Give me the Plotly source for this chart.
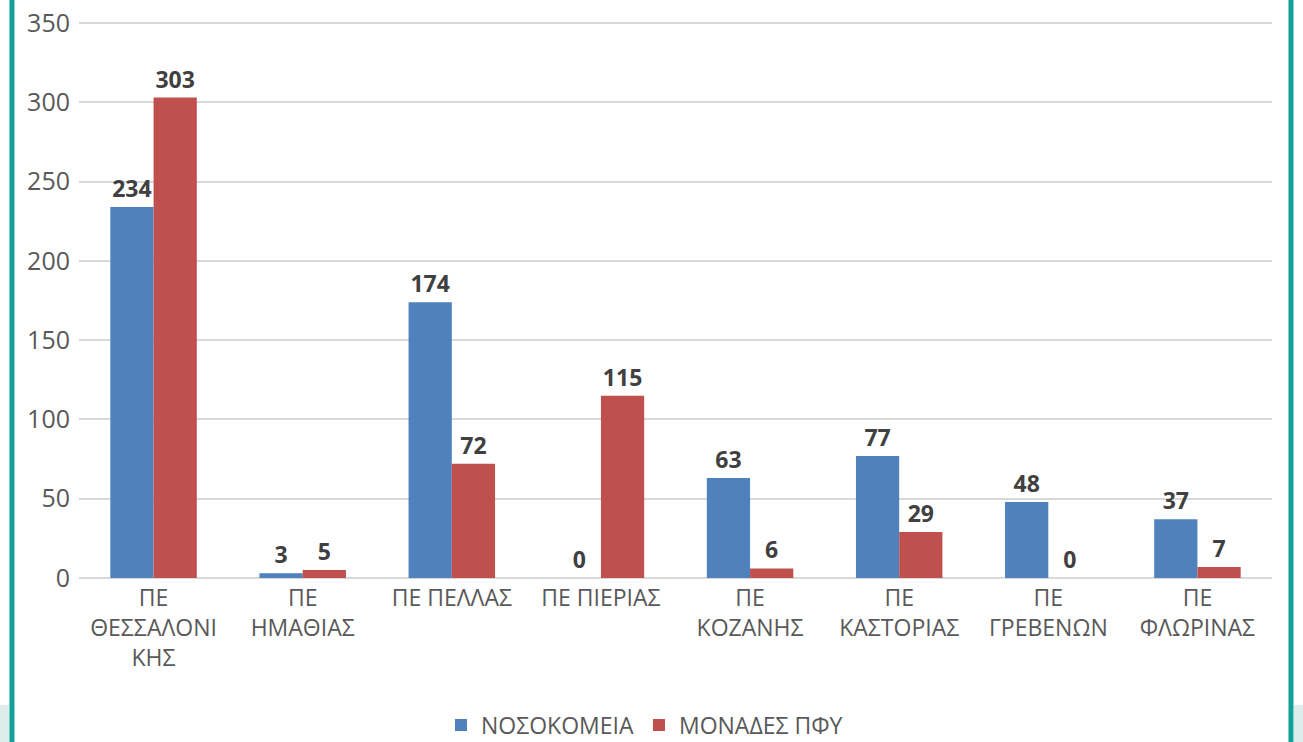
import plotly.graph_objects as go

categories = ["ΠΕ<br>ΘΕΣΣΑΛΟΝΙ<br>ΚΗΣ", "ΠΕ<br>ΗΜΑΘΙΑΣ", "ΠΕ ΠΕΛΛΑΣ", "ΠΕ ΠΙΕΡΙΑΣ",
              "ΠΕ<br>ΚΟΖΑΝΗΣ", "ΠΕ<br>ΚΑΣΤΟΡΙΑΣ", "ΠΕ<br>ΓΡΕΒΕΝΩΝ", "ΠΕ<br>ΦΛΩΡΙΝΑΣ"]
hospitals = [234, 3, 174, 0, 63, 77, 48, 37]
pfy_units = [303, 5, 72, 115, 6, 29, 0, 7]
series_names = ["ΝΟΣΟΚΟΜΕΙΑ", "ΜΟΝΑΔΕΣ ΠΦΥ"]
series_colors = ["#4F81BD", "#C0504D"]
y_ticks = [0, 50, 100, 150, 200, 250, 300, 350]

FONT = "Open Sans, DejaVu Sans, sans-serif"
fig = go.Figure()
for name, vals, col in zip(series_names, [hospitals, pfy_units], series_colors):
    fig.add_trace(go.Bar(
        x=categories, y=vals, name=name, marker_color=col, marker_line_width=0,
        text=[str(v) for v in vals], textposition="outside", cliponaxis=False,
        textfont=dict(family=FONT, size=23, color="#404040", weight="bold"),
        showlegend=False,
    ))
# legend entries with larger square swatches
for name, col in zip(series_names, series_colors):
    fig.add_trace(go.Scatter(
        x=[None], y=[None], mode="markers", name=name,
        marker=dict(symbol="square", size=16, color=col), showlegend=True,
    ))

fig.update_layout(
    width=1303, height=742,
    margin=dict(l=79, r=31, t=22, b=164, autoexpand=False),
    paper_bgcolor="white", plot_bgcolor="white",
    barmode="group", bargap=0.42, bargroupgap=0,
    font=dict(family=FONT, color="#595959", size=23),
    showlegend=True,
    legend=dict(orientation="h", x=0.474, xanchor="center", yref="container", y=0.023,
                yanchor="middle", font=dict(size=23, color="#595959"), itemwidth=30,
                traceorder="normal", itemsizing="constant"),
    shapes=[
        dict(type="rect", xref="paper", yref="paper", x0=-0.07, x1=-0.0587, y0=-0.32, y1=-0.228,
             fillcolor="#DDEEEA", line_width=0, layer="below"),
        dict(type="line", xref="paper", yref="paper", x0=-0.0562, x1=-0.0562, y0=-0.32, y1=1.1,
             line=dict(color="#12A09A", width=5)),
        dict(type="rect", xref="paper", yref="paper", x0=1.0184, x1=1.03, y0=-0.32, y1=-0.228,
             fillcolor="#DDEEEA", line_width=0, layer="below"),
        dict(type="line", xref="paper", yref="paper", x0=1.0159, x1=1.0159, y0=-0.32, y1=1.1,
             line=dict(color="#12A09A", width=5)),
    ],
)
fig.update_xaxes(showgrid=False, showline=False, ticks="", automargin=False,
                 tickfont=dict(size=23, color="#595959"), ticklabelstandoff=4)
fig.update_yaxes(range=[0, 350.7], tickvals=y_ticks, showgrid=True, gridcolor="#D9D9D9", gridwidth=2,
                 zeroline=True, zerolinecolor="#D9D9D9", zerolinewidth=2, showline=False,
                 automargin=False, tickfont=dict(size=25, color="#595959"), ticks="",
                 ticklabelstandoff=8)

fig.write_html("out.html", config={"displayModeBar": False},
               post_script="document.body.style.margin='0';document.body.style.overflow='hidden';")
